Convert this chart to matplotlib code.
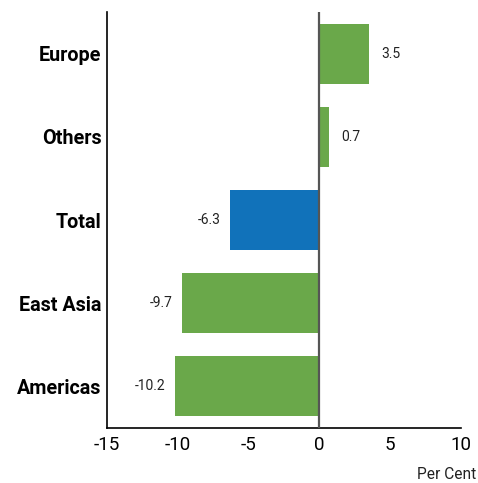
import matplotlib
matplotlib.use("Agg")
import matplotlib.pyplot as plt

# data (bottom to top)
regions = ["Americas", "East Asia", "Total", "Others", "Europe"]
values = [-10.2, -9.7, -6.3, 0.7, 3.5]
colors = ["#6aa84a", "#6aa84a", "#1172ba", "#6aa84a", "#6aa84a"]
xticks = [-15, -10, -5, 0, 5, 10]

plt.rcParams['font.family'] = ['Roboto', 'DejaVu Sans']

fig = plt.figure(figsize=(4.78, 4.83), dpi=100)
ax = fig.add_axes([0.224, 0.114, 0.74, 0.861])

pos = list(range(len(regions)))
ax.barh(pos, values, height=0.72, color=colors, zorder=2)
ax.axvline(0, color="#555555", lw=1.6, zorder=3)

for p, v in zip(pos, values):
    if v >= 0:
        ax.annotate(f"{v}", (v, p), xytext=(9, 0), textcoords="offset points",
                    ha="left", va="center", fontsize=10, color="#222222")
    else:
        ax.annotate(f"{v}", (v, p), xytext=(-7, 0), textcoords="offset points",
                    ha="right", va="center", fontsize=10, color="#222222")

ax.set_xlim(-15, 10)
ax.set_ylim(-0.5, 4.5)
ax.set_xticks(xticks)
ax.set_xticklabels([str(t) for t in xticks], fontsize=13.5)
ax.set_yticks(pos)
ax.set_yticklabels(regions, fontsize=14.2, fontweight="bold")
ax.tick_params(axis="y", length=0, pad=4)
ax.tick_params(axis="x", length=0, pad=6)

for s in ["top", "right"]:
    ax.spines[s].set_visible(False)
for s in ["left", "bottom"]:
    ax.spines[s].set_linewidth(1.2)
    ax.spines[s].set_color("black")

fig.text(0.997, 0.002, "Per Cent", ha="right", va="bottom", fontsize=11.2, color="#222222")

fig.savefig("out.png", dpi=100)
